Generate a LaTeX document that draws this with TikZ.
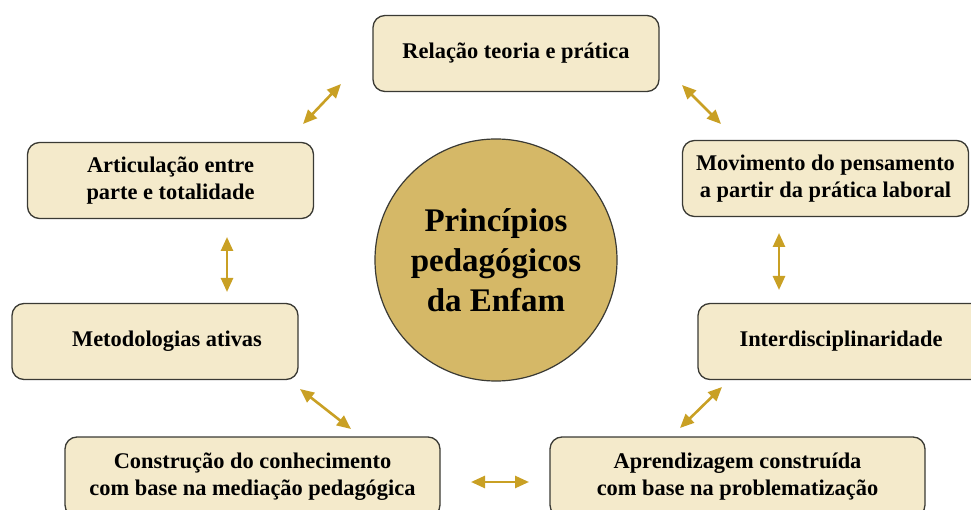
\documentclass[tikz,border=0pt]{standalone}
\usepackage{fontspec}
\setmainfont{Liberation Serif}
\usetikzlibrary{arrows.meta}
\definecolor{boxfill}{HTML}{F4EACB}
\definecolor{circfill}{HTML}{D5B867}
\definecolor{gold}{HTML}{C9A024}
\definecolor{edge}{HTML}{3A3A34}
\begin{document}
\begin{tikzpicture}[x=1pt,y=-1pt,
  pbox/.style={draw=edge, line width=1.3pt, fill=boxfill, rounded corners=12pt,
    minimum width=286pt, minimum height=76pt, align=center,
    font=\fontsize{22.4}{27}\selectfont\bfseries, inner sep=0pt},
  garrow/.style={draw=gold, line width=2.6pt, {Triangle[width=12pt,length=14pt]}-{Triangle[width=12pt,length=14pt]}}
]
\useasboundingbox (0,0) rectangle (971,510);
\begin{scope}
\clip (0,0) rectangle (971,510);
\node[pbox] (top) at (516,53.5) {Relação teoria e prática};
\node[pbox] (lt) at (170.5,180.5) {Articulação entre\\parte e totalidade};
\node[pbox] (rt) at (825.5,178.5) {Movimento do pensamento\\a partir da prática laboral};
\node[pbox] (lm) at (155,341.5) {\hspace*{24pt}Metodologias ativas};
\node[pbox] (rm) at (841,341.5) {Interdisciplinaridade};
\node[pbox, minimum width=375pt, minimum height=80pt] (bl) at (252.5,477) {Construção do conhecimento\\com base na mediação pedagógica};
\node[pbox, minimum width=375pt, minimum height=80pt] (br) at (737.5,477) {Aprendizagem construída\\com base na problematização};
\node[circle, draw=edge, line width=1.2pt, fill=circfill, minimum size=242pt, align=center,
  font=\fontsize{33}{40}\selectfont\bfseries, inner sep=0pt] (c) at (496,260)
  {Princípios\\pedagógicos\\da Enfam};
\end{scope}
\coordinate (a1) at (303,124); \coordinate (a2) at (341,84);
\coordinate (b1) at (682,85); \coordinate (b2) at (721,124);
\coordinate (c1) at (227,237); \coordinate (c2) at (227,292);
\coordinate (d1) at (779,233); \coordinate (d2) at (779,290);
\coordinate (e1) at (300,389); \coordinate (e2) at (351,429);
\coordinate (f1) at (680,428); \coordinate (f2) at (722,387);
\coordinate (g1) at (471,482); \coordinate (g2) at (529,482);
\draw[garrow] (a1) -- (a2);
\draw[garrow] (b1) -- (b2);
\draw[garrow] (c1) -- (c2);
\draw[garrow] (d1) -- (d2);
\draw[garrow] (e1) -- (e2);
\draw[garrow] (f1) -- (f2);
\draw[garrow] (g1) -- (g2);
\end{tikzpicture}
\end{document}
